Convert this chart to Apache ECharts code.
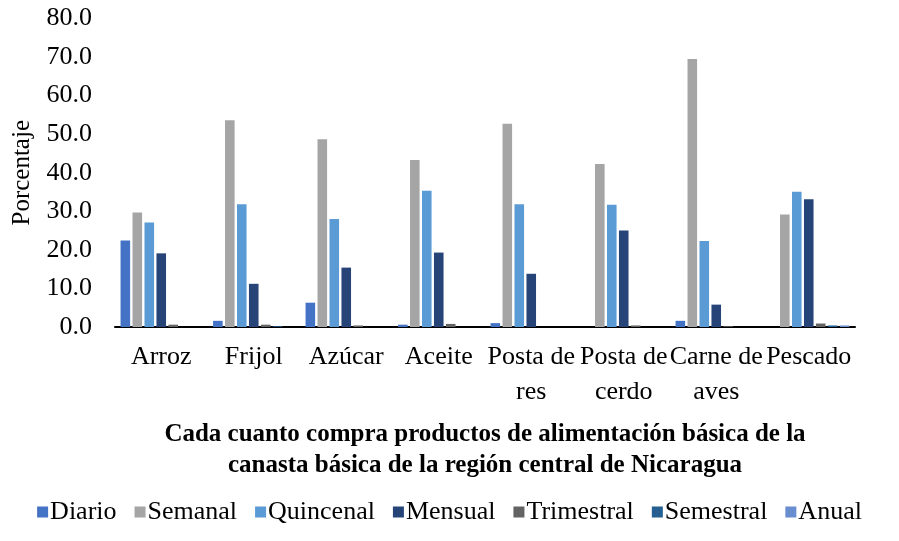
<!DOCTYPE html>
<html>
<head>
<meta charset="utf-8">
<script src="https://cdn.jsdelivr.net/npm/echarts@6/dist/echarts.min.js"></script>
<style>
html,body{margin:0;padding:0;background:#fff;}
#main{width:899px;height:541px;}
</style>
</head>
<body>
<div id="main"></div>
<script>
// categorias (productos)
var categorias = ['Arroz', 'Frijol', 'Azúcar', 'Aceite', 'Posta de\nres', 'Posta de\ncerdo', 'Carne de\naves', 'Pescado'];
var series_nombres = ['Diario', 'Semanal', 'Quincenal', 'Mensual', 'Trimestral', 'Semestral', 'Anual'];
var colores = ['#4472C4', '#A5A5A5', '#5B9BD5', '#264478', '#636363', '#255E91', '#698ED0'];

// valores (%)
var diario     = [22.4, 1.6, 6.3, 0.6, 1.0, 0.0, 1.6, 0.0];
var semanal    = [29.7, 53.6, 48.7, 43.3, 52.7, 42.3, 69.5, 29.2];
var quincenal  = [27.1, 31.8, 28.0, 35.3, 31.8, 31.7, 22.3, 35.1];
var mensual    = [19.1, 11.2, 15.4, 19.3, 13.8, 25.0, 5.8, 33.1];
var trimestral = [0.6, 0.6, 0.4, 0.8, 0.0, 0.4, 0.2, 0.9];
var semestral  = [0.0, 0.2, 0.0, 0.0, 0.0, 0.0, 0.0, 0.4];
var anual      = [0.0, 0.0, 0.0, 0.0, 0.0, 0.0, 0.0, 0.4];

var valores = [diario, semanal, quincenal, mensual, trimestral, semestral, anual];
var fuente = '"Liberation Serif", "Times New Roman", serif';

var myChart = echarts.init(document.getElementById('main'));

var series = [];
for (var i = 0; i < series_nombres.length; i++) {
    series.push({
        name: series_nombres[i],
        type: 'bar',
        data: valores[i],
        barGap: '25%',
        barCategoryGap: '12%',
        itemStyle: { color: colores[i] }
    });
}

var option = {
    animation: false,
    textStyle: { fontFamily: fuente },
    color: colores,
    grid: {
        left: 115,
        right: 44,
        top: 18.5,
        bottom: 214,
        containLabel: false
    },
    legend: {
        bottom: 11,
        left: 'center',
        itemWidth: 11,
        itemHeight: 11,
        itemGap: 18,
        icon: 'rect',
        textStyle: { fontFamily: fuente, fontSize: 26, color: '#000', padding: [0, 0, 0, -3] },
        data: series_nombres
    },
    xAxis: {
        type: 'category',
        data: categorias,
        name: 'Cada cuanto compra productos de alimentación básica de la\ncanasta básica de la región central de Nicaragua',
        nameLocation: 'middle',
        nameGap: 92,
        nameTextStyle: {
            fontFamily: fuente,
            fontSize: 25,
            fontWeight: 'bold',
            color: '#000',
            lineHeight: 31
        },
        axisLine: { lineStyle: { color: '#000', width: 2 } },
        axisTick: { show: false },
        axisLabel: {
            fontFamily: fuente,
            fontSize: 26,
            color: '#000',
            lineHeight: 35,
            margin: 13,
            interval: 0,
            verticalAlign: 'top'
        }
    },
    yAxis: {
        type: 'value',
        min: 0,
        max: 80,
        interval: 10,
        name: 'Porcentaje',
        nameLocation: 'middle',
        nameGap: 80,
        nameTextStyle: { fontFamily: fuente, fontSize: 25, color: '#000' },
        axisLine: { show: false },
        axisTick: { show: false },
        splitLine: { show: false },
        axisLabel: {
            fontFamily: fuente,
            fontSize: 26,
            color: '#000',
            margin: 23,
            formatter: function (v) { return v.toFixed(1); }
        }
    },
    series: series
};

myChart.setOption(option);
</script>
</body>
</html>
